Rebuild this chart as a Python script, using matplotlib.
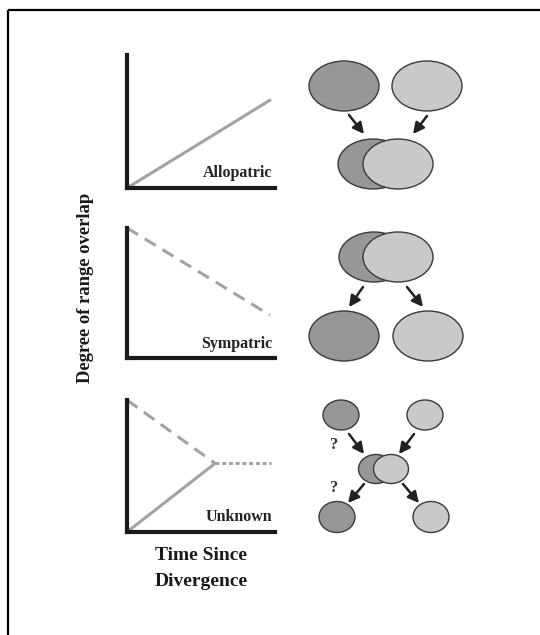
import matplotlib
matplotlib.use("Agg")
import matplotlib.pyplot as plt
from matplotlib.patches import Ellipse
import numpy as np

# panel line data: time since divergence (0-1) vs degree of range overlap (0-1)
panel_names = ["Allopatric", "Sympatric", "Unknown"]
allo_time = [0.0, 0.966]
allo_overlap = [0.0, 0.66]
symp_time = [0.0, 0.966]
symp_overlap = [1.0, 0.33]
unk_rise_time = [0.0, 0.595]
unk_rise_overlap = [0.0, 0.52]
unk_fall_time = [0.0, 0.595]
unk_fall_overlap = [1.0, 0.52]
unk_flat_time = [0.595, 0.973]
unk_flat_overlap = [0.52, 0.52]

DARK = "#979797"
LIGHT = "#c9c9c9"
EDGE = "#3a3a3a"
LINE = "#a3a3a3"
FONT = "Liberation Serif"

W, H = 540, 635
fig = plt.figure(figsize=(W / 100, H / 100), dpi=100)
fig.patch.set_facecolor("white")

# overlay in pixel coordinates for the frame, circles and labels
over = fig.add_axes([0, 0, 1, 1])
over.set_xlim(0, W)
over.set_ylim(H, 0)
over.axis("off")
over.patch.set_alpha(0)

over.plot([8, W], [9.5, 9.5], color="black", lw=1.6, solid_capstyle="butt")
over.plot([8, 8], [9.5, H], color="black", lw=1.6, solid_capstyle="butt")

# graph panels (top, bottom in pixels)
panel_box = [(55, 188), (228, 358), (400, 532)]
x_left, x_right = 127, 275


def make_panel(top, bottom):
    ax = fig.add_axes([x_left / W, 1 - bottom / H, (x_right - x_left) / W, (bottom - top) / H])
    ax.set_xlim(0, 1)
    ax.set_ylim(0, 1)
    ax.patch.set_alpha(0)
    for s in ["top", "right"]:
        ax.spines[s].set_visible(False)
    for s in ["left", "bottom"]:
        ax.spines[s].set_linewidth(3.0)
        ax.spines[s].set_color("#1a1a1a")
        ax.spines[s].set_capstyle("projecting")
    ax.set_xticks([])
    ax.set_yticks([])
    return ax


axes = [make_panel(t, b) for t, b in panel_box]

axes[0].plot(allo_time, allo_overlap, color=LINE, lw=2.2, solid_capstyle="round", clip_on=False)
axes[1].plot(symp_time, symp_overlap, color=LINE, lw=2.2, dashes=(4.2, 2.6), clip_on=False)
axes[2].plot(unk_fall_time, unk_fall_overlap, color=LINE, lw=2.2, dashes=(4.2, 2.6), clip_on=False)
axes[2].plot(unk_rise_time, unk_rise_overlap, color=LINE, lw=2.2, solid_capstyle="round", clip_on=False)
axes[2].plot(unk_flat_time, unk_flat_overlap, color=LINE, lw=2.2, dashes=(1.3, 0.9), clip_on=False)

for ax, name in zip(axes, panel_names):
    ax.text(0.98, 0.05, name, transform=ax.transAxes, ha="right", va="bottom",
            family=FONT, fontweight="bold", fontsize=11.5, color="#222222")

over.text(85, 288, "Degree of range overlap", rotation=90, ha="center", va="center",
          family=FONT, fontweight="bold", fontsize=13.4, color="#1a1a1a")
over.text(201, 556, "Time Since", ha="center", va="center",
          family=FONT, fontweight="bold", fontsize=14, color="#1a1a1a")
over.text(201, 581, "Divergence", ha="center", va="center",
          family=FONT, fontweight="bold", fontsize=14, color="#1a1a1a")

# range diagrams: (cx, cy, w, h, colour), drawn in order
ellipses = [
    (344, 86, 70, 50, DARK), (427, 86, 70, 50, LIGHT),
    (373, 164, 70, 50, DARK), (398, 164, 70, 50, LIGHT),
    (374, 257, 70, 50, DARK), (398, 257, 70, 50, LIGHT),
    (344, 336, 70, 50, DARK), (428, 336, 70, 50, LIGHT),
    (341, 415, 36, 30, DARK), (425, 415, 36, 30, LIGHT),
    (376, 469, 35, 29, DARK), (391, 469, 35, 29, LIGHT),
    (337, 517, 36, 31, DARK), (431, 517, 36, 31, LIGHT),
]
for cx, cy, w, h, c in ellipses:
    over.add_patch(Ellipse((cx, cy), w, h, facecolor=c, edgecolor=EDGE, lw=1.0))

arrows = [
    ((349, 115), (364, 134)), ((427, 116), (413, 134)),
    ((363, 287), (349, 307)), ((407, 287), (423, 307)),
    ((349, 434), (364, 454)), ((414, 434), (399, 454)),
    ((364, 484), (348, 503)), ((403, 484), (419, 503)),
]
for start, end in arrows:
    over.annotate("", xy=end, xytext=start,
                  arrowprops=dict(arrowstyle="-|>,head_length=0.65,head_width=0.33",
                                  color="#222222", lw=1.8, shrinkA=0, shrinkB=0))

for qy in [445, 488]:
    over.text(334, qy, "?", ha="center", va="center", family=FONT,
              fontweight="bold", fontsize=12, color="#333333")

fig.savefig("out.png", dpi=100, facecolor="white")
